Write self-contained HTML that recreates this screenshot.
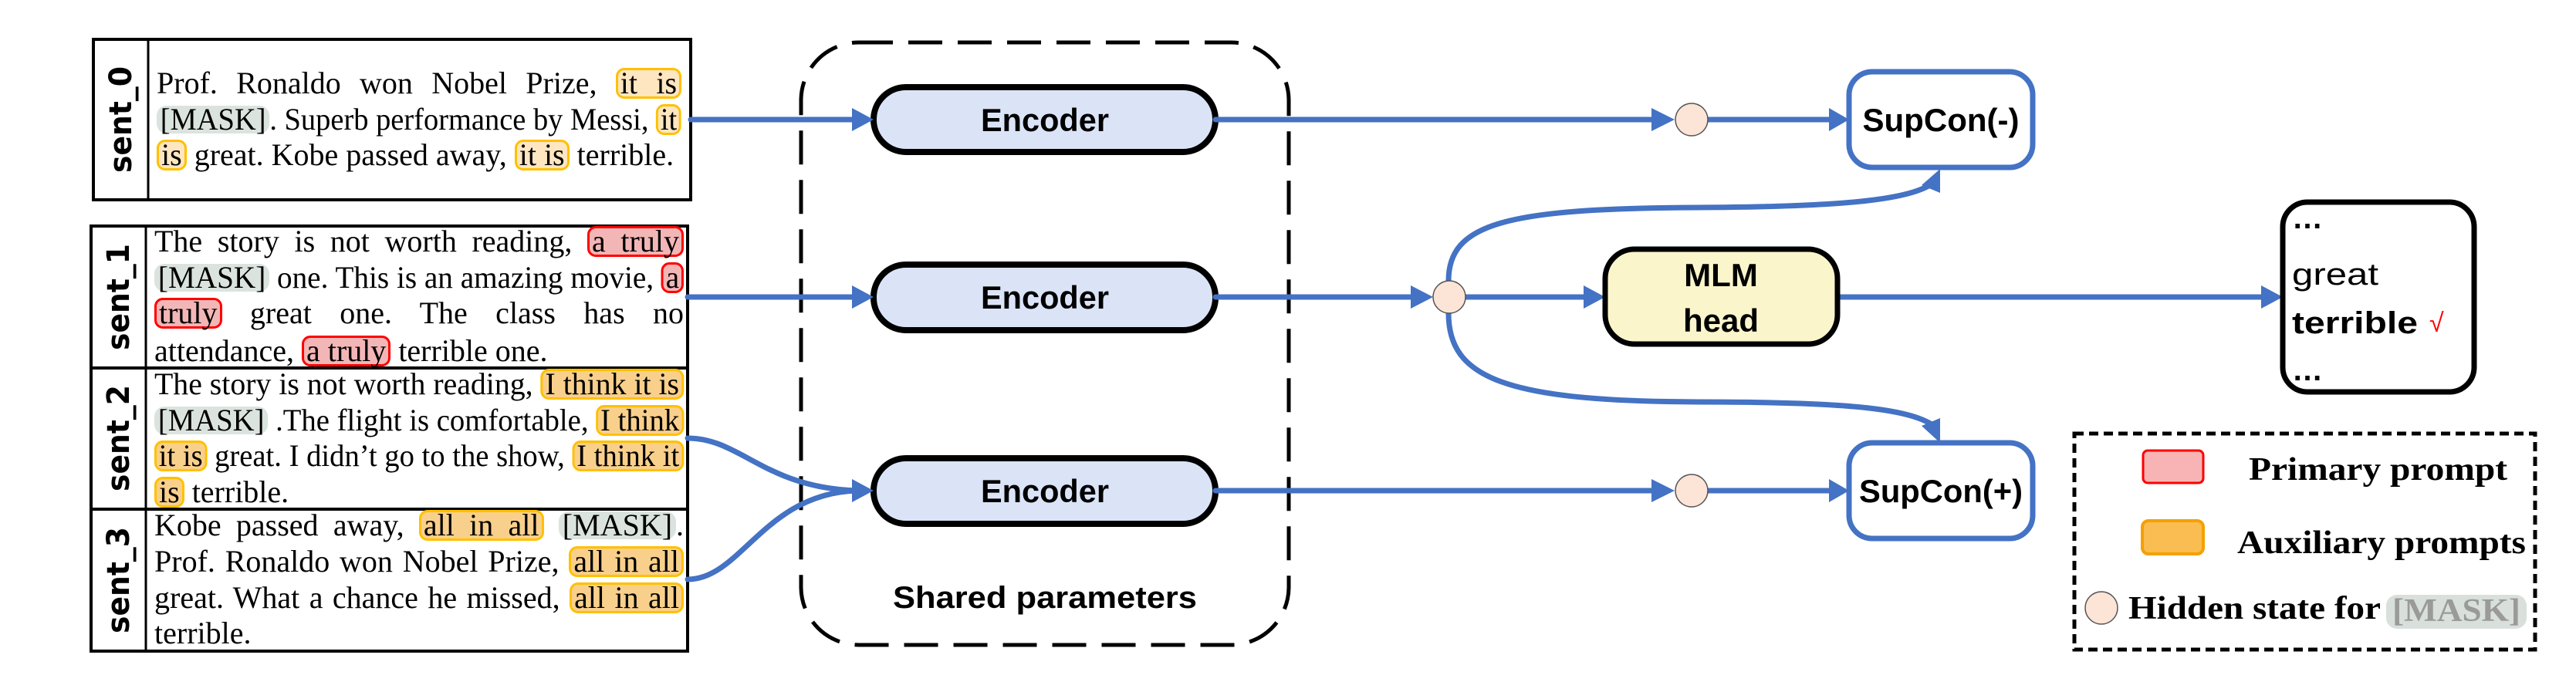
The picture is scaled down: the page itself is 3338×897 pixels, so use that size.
<!DOCTYPE html>
<html><head><meta charset="utf-8"><style>
body{margin:0;background:#fff;}
#c{position:relative;width:3338px;height:897px;overflow:hidden;background:#fff;}
svg{position:absolute;left:0;top:0;}
.ln{position:absolute;white-space:nowrap;font-family:"Liberation Serif",serif;font-size:40px;line-height:47px;height:47px;color:#000;}
.ln>span.in{display:inline-block;transform-origin:0 0;}
.h{display:inline-block;line-height:34px;padding:0 3px;border:3px solid #ffc000;border-radius:11px;}
.o1{background:#fde6c0;}
.o{background:#f9d08b;}
.r{background:#f3b6b6;border-color:#ff0000;}
.m{display:inline-block;line-height:36px;padding:0 5px;background:#dbe3de;border-radius:13px;}
</style></head><body><div id="c">
<svg width="3338" height="897" viewBox="0 0 3338 897" xmlns="http://www.w3.org/2000/svg">
<rect x="121" y="51" width="774" height="208" fill="none" stroke="#000" stroke-width="4"/>
<line x1="192" y1="51" x2="192" y2="259" stroke="#000" stroke-width="3"/>
<rect x="118" y="293" width="773" height="551" fill="none" stroke="#000" stroke-width="4"/>
<line x1="189" y1="293" x2="189" y2="844" stroke="#000" stroke-width="3"/>
<line x1="118" y1="477" x2="891" y2="477" stroke="#000" stroke-width="4"/>
<line x1="118" y1="660" x2="891" y2="660" stroke="#000" stroke-width="4"/>
<g font-family="DejaVu Sans, sans-serif" font-weight="bold" font-size="40" text-anchor="middle">
<text transform="translate(170,155) rotate(-90)" textLength="138" lengthAdjust="spacingAndGlyphs">sent_0</text>
<text transform="translate(167,385) rotate(-90)" textLength="138" lengthAdjust="spacingAndGlyphs">sent_1</text>
<text transform="translate(167,568) rotate(-90)" textLength="138" lengthAdjust="spacingAndGlyphs">sent_2</text>
<text transform="translate(167,752) rotate(-90)" textLength="138" lengthAdjust="spacingAndGlyphs">sent_3</text>
</g>
<rect x="1038" y="55" width="632" height="781" rx="75" fill="none" stroke="#000" stroke-width="5" stroke-dasharray="44 20"/>
<text x="1354" y="788" font-family="Liberation Sans, sans-serif" font-weight="bold" font-size="40" text-anchor="middle" textLength="394" lengthAdjust="spacingAndGlyphs">Shared parameters</text>
<g fill="#dbe4f7" stroke="#000" stroke-width="8">
<rect x="1132" y="113" width="443" height="84" rx="42"/>
<rect x="1132" y="343" width="443" height="85" rx="42"/>
<rect x="1132" y="594" width="443" height="85" rx="42"/>
</g>
<g font-family="Liberation Sans, sans-serif" font-weight="bold" font-size="42" text-anchor="middle">
<text x="1354" y="170" textLength="166" lengthAdjust="spacingAndGlyphs">Encoder</text>
<text x="1354" y="400" textLength="166" lengthAdjust="spacingAndGlyphs">Encoder</text>
<text x="1354" y="651" textLength="166" lengthAdjust="spacingAndGlyphs">Encoder</text>
</g>
<g stroke="#4472c4" stroke-width="7" fill="none" stroke-linecap="round">
<line x1="895" y1="155" x2="1106" y2="155"/>
<line x1="891" y1="385" x2="1106" y2="385"/>
<path d="M891,568 C960,568 990,632 1110,636"/>
<path d="M891,751 C960,751 990,640 1110,636"/>
<line x1="1575" y1="155" x2="2142" y2="155"/>
<line x1="2213" y1="155" x2="2372" y2="155"/>
<line x1="1575" y1="385" x2="1830" y2="385"/>
<line x1="1899" y1="385" x2="2054" y2="385"/>
<line x1="2381" y1="385" x2="2932" y2="385"/>
<line x1="1575" y1="636" x2="2142" y2="636"/>
<line x1="2213" y1="636" x2="2372" y2="636"/>
<path d="M1877,364 C1877,290 1950,270 2200,269 C2400,268 2480,258 2508,235"/>
<path d="M1877,406 C1877,490 1950,520 2200,521 C2400,521 2480,530 2510,555"/>
</g>
<g fill="#4472c4">
<polygon points="1104,140 1132,155 1104,170"/>
<polygon points="1104,370 1132,385 1104,400"/>
<polygon points="1104,621 1132,636 1104,651"/>
<polygon points="2140,140 2170,155 2140,170"/>
<polygon points="2370,140 2396,155 2370,170"/>
<polygon points="1828,370 1857,385 1828,400"/>
<polygon points="2052,370 2080,385 2052,400"/>
<polygon points="2930,370 2958,385 2930,400"/>
<polygon points="2140,621 2170,636 2140,651"/>
<polygon points="2370,621 2396,636 2370,651"/>
<polygon points="2514,219 2514,250 2490,240"/>
<polygon points="2514,574 2514,542 2490,552"/>
</g>
<g fill="#fce4d6" stroke="#555" stroke-width="1.5">
<circle cx="2192" cy="155" r="21"/>
<circle cx="1878" cy="385" r="21"/>
<circle cx="2192" cy="636" r="21"/>
<circle cx="2723" cy="788" r="21"/>
</g>
<rect x="2080" y="323" width="301" height="123" rx="38" fill="#fbf5cb" stroke="#000" stroke-width="7"/>
<g font-family="Liberation Sans, sans-serif" font-weight="bold" font-size="42" text-anchor="middle">
<text x="2230" y="371">MLM</text>
<text x="2230" y="430">head</text>
</g>
<g fill="#fff" stroke="#4472c4" stroke-width="7">
<rect x="2396" y="93" width="238" height="124" rx="30"/>
<rect x="2396" y="574" width="238" height="124" rx="30"/>
</g>
<g font-family="Liberation Sans, sans-serif" font-weight="bold" font-size="42" text-anchor="middle">
<text x="2515" y="170" textLength="203" lengthAdjust="spacingAndGlyphs">SupCon(-)</text>
<text x="2515" y="651" textLength="212" lengthAdjust="spacingAndGlyphs">SupCon(+)</text>
</g>
<rect x="2958" y="262" width="248" height="246" rx="32" fill="#fff" stroke="#000" stroke-width="7"/>
<g font-family="Liberation Sans, sans-serif" font-size="40">
<text x="2970" y="296" font-weight="bold">…</text>
<text x="2970" y="369" textLength="112" lengthAdjust="spacingAndGlyphs">great</text>
<text x="2970" y="432" font-weight="bold" textLength="163" lengthAdjust="spacingAndGlyphs">terrible</text>
<text x="3148" y="430" fill="#ff0000" font-size="34">√</text>
<text x="2970" y="493" font-weight="bold">…</text>
</g>
<rect x="2688" y="562" width="597" height="280" fill="none" stroke="#000" stroke-width="5" stroke-dasharray="12 7"/>
<rect x="2777" y="584" width="78" height="42" rx="6" fill="#f8b4b4" stroke="#ff0000" stroke-width="3"/>
<rect x="2776" y="675" width="79" height="43" rx="8" fill="#f9bd52" stroke="#f5a000" stroke-width="4"/>
<g font-family="Liberation Serif, serif" font-weight="bold" font-size="42">
<text x="2914" y="622" textLength="335" lengthAdjust="spacingAndGlyphs">Primary prompt</text>
<text x="2899" y="717" textLength="374" lengthAdjust="spacingAndGlyphs">Auxiliary prompts</text>
<text x="2758" y="802" textLength="327" lengthAdjust="spacingAndGlyphs">Hidden state for</text>
</g>
<rect x="3092" y="771" width="182" height="44" rx="14" fill="#d9e0dc"/>
<text x="3183" y="805" font-family="Liberation Serif, serif" font-weight="bold" font-size="42" fill="#9a9a9a" text-anchor="middle" textLength="166" lengthAdjust="spacingAndGlyphs">[MASK]</text>
</svg>

<div class="ln j" style="left:203px;top:84px;width:680px"><span class="in">Prof. Ronaldo won Nobel Prize, <span class="h o1">it is</span></span></div>
<div class="ln j" style="left:203px;top:131px;width:680px"><span class="in"><span class="m">[MASK]</span>. Superb performance by Messi, <span class="h o1">it</span></span></div>
<div class="ln" style="left:203px;top:177px;width:680px"><span class="in"><span class="h o1">is</span> great. Kobe passed away, <span class="h o1">it is</span> terrible.</span></div>
<div class="ln j" style="left:200px;top:289px;width:686px"><span class="in">The story is not worth reading, <span class="h r">a truly</span></span></div>
<div class="ln j" style="left:200px;top:336px;width:686px"><span class="in"><span class="m">[MASK]</span> one. This is an amazing movie, <span class="h r">a</span></span></div>
<div class="ln j" style="left:200px;top:382px;width:686px"><span class="in"><span class="h r">truly</span> great one. The class has no</span></div>
<div class="ln" style="left:200px;top:431px;width:686px"><span class="in">attendance, <span class="h r">a truly</span> terrible one.</span></div>
<div class="ln j" style="left:200px;top:474px;width:686px"><span class="in">The story is not worth reading, <span class="h o">I think it is</span></span></div>
<div class="ln j" style="left:200px;top:521px;width:686px"><span class="in"><span class="m">[MASK]</span> .The flight is comfortable, <span class="h o">I think</span></span></div>
<div class="ln j" style="left:200px;top:567px;width:686px"><span class="in"><span class="h o">it is</span> great. I didn’t go to the show, <span class="h o">I think it</span></span></div>
<div class="ln" style="left:200px;top:614px;width:686px"><span class="in"><span class="h o">is</span> terrible.</span></div>
<div class="ln j" style="left:200px;top:657px;width:686px"><span class="in">Kobe passed away, <span class="h o">all in all</span> <span class="m">[MASK]</span>.</span></div>
<div class="ln j" style="left:200px;top:704px;width:686px"><span class="in">Prof. Ronaldo won Nobel Prize, <span class="h o">all in all</span></span></div>
<div class="ln j" style="left:200px;top:751px;width:686px"><span class="in">great. What a chance he missed, <span class="h o">all in all</span></span></div>
<div class="ln" style="left:200px;top:797px;width:686px"><span class="in">terrible.</span></div>
</div>
<script>
document.querySelectorAll('.ln').forEach(function(l){
  var i=l.firstElementChild;
  var W=l.clientWidth;
  var w=i.getBoundingClientRect().width;
  if(w>W){
    i.style.transform='scaleX('+(W/w)+')';
  } else if(l.classList.contains('j')){
    var n=(i.textContent.match(/ /g)||[]).length;
    if(n){ i.style.wordSpacing=((W-w)/n)+'px'; }
  }
});
</script>
</body></html>
